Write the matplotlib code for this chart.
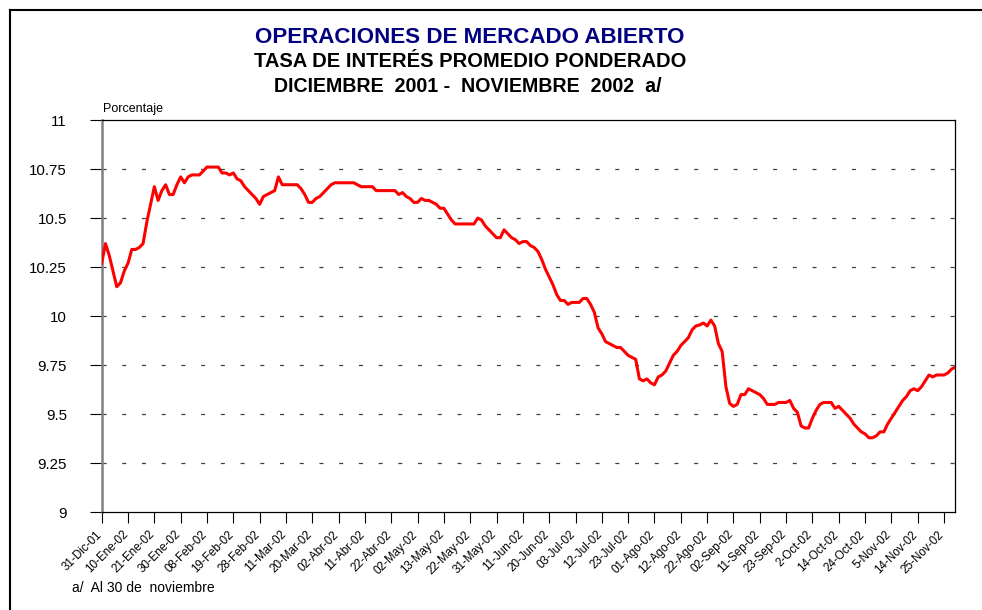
import matplotlib
matplotlib.use("Agg")
import matplotlib.pyplot as plt
import matplotlib.transforms as mtransforms
from matplotlib.lines import Line2D

plt.rcParams['font.family'] = ['Liberation Sans', 'DejaVu Sans']
plt.rcParams['lines.scale_dashes'] = False

# Tick labels shown every 7 business days
tick_labels = ["31-Dic-01", "10-Ene-02", "21-Ene-02", "30-Ene-02", "08-Feb-02", "19-Feb-02",
               "28-Feb-02", "11-Mar-02", "20-Mar-02", "02-Abr-02", "11-Abr-02", "22-Abr-02",
               "02-May-02", "13-May-02", "22-May-02", "31-May-02", "11-Jun-02", "20-Jun-02",
               "03-Jul-02", "12-Jul-02", "23-Jul-02", "01-Ago-02", "12-Ago-02", "22-Ago-02",
               "02-Sep-02", "11-Sep-02", "23-Sep-02", "2-Oct-02", "14-Oct-02", "24-Oct-02",
               "5-Nov-02", "14-Nov-02", "25-Nov-02"]
label_step = 7

# Daily weighted average rate (percent)
rates = [
    10.27, 10.37, 10.31, 10.23, 10.15, 10.17, 10.23, 10.27, 10.34, 10.34,
    10.35, 10.37, 10.48, 10.57, 10.66, 10.59, 10.64, 10.67, 10.62, 10.62,
    10.67, 10.71, 10.68, 10.71, 10.72, 10.72, 10.72, 10.74, 10.76, 10.76,
    10.76, 10.76, 10.73, 10.73, 10.72, 10.73, 10.70, 10.69, 10.66, 10.64,
    10.62, 10.60, 10.57, 10.61, 10.62, 10.63, 10.64, 10.71, 10.67, 10.67,
    10.67, 10.67, 10.67, 10.65, 10.62, 10.58, 10.58, 10.60, 10.61, 10.63,
    10.65, 10.67, 10.68, 10.68, 10.68, 10.68, 10.68, 10.68, 10.67, 10.66,
    10.66, 10.66, 10.66, 10.64, 10.64, 10.64, 10.64, 10.64, 10.64, 10.62,
    10.63, 10.61, 10.60, 10.58, 10.58, 10.60, 10.59, 10.59, 10.58, 10.57,
    10.55, 10.55, 10.52, 10.49, 10.47, 10.47, 10.47, 10.47, 10.47, 10.47,
    10.50, 10.49, 10.46, 10.44, 10.42, 10.40, 10.40, 10.44, 10.42, 10.40,
    10.39, 10.37, 10.38, 10.38, 10.36, 10.35, 10.33, 10.29, 10.24, 10.20,
    10.16, 10.11, 10.08, 10.08, 10.06, 10.07, 10.07, 10.07, 10.09, 10.09,
    10.06, 10.02, 9.94, 9.91, 9.87, 9.86, 9.85, 9.84, 9.84, 9.82,
    9.80, 9.79, 9.78, 9.68, 9.67, 9.68, 9.66, 9.65, 9.69, 9.70,
    9.72, 9.76, 9.80, 9.82, 9.85, 9.87, 9.89, 9.93, 9.95, 9.955,
    9.965, 9.95, 9.98, 9.95, 9.86, 9.82, 9.64, 9.555, 9.54, 9.55,
    9.60, 9.60, 9.63, 9.62, 9.61, 9.60, 9.58, 9.55, 9.55, 9.55,
    9.56, 9.56, 9.56, 9.57, 9.53, 9.51, 9.44, 9.43, 9.43, 9.48,
    9.52, 9.55, 9.56, 9.56, 9.56, 9.53, 9.54, 9.52, 9.50, 9.48,
    9.45, 9.43, 9.41, 9.40, 9.38, 9.38, 9.39, 9.41, 9.41, 9.45,
    9.48, 9.51, 9.54, 9.57, 9.59, 9.62, 9.63, 9.62, 9.64, 9.67,
    9.70, 9.69, 9.70, 9.70, 9.70, 9.71, 9.73, 9.74,
]

y_ticks = [9, 9.25, 9.5, 9.75, 10, 10.25, 10.5, 10.75, 11]
y_tick_labels = ["9", "9.25", "9.5", "9.75", "10", "10.25", "10.5", "10.75", "11"]

W, H = 982, 610
fig = plt.figure(figsize=(W / 100, H / 100), dpi=100)
fig.patch.set_facecolor('white')

def fx(px):
    return px / W

def fy(py):
    return 1 - py / H

ax = fig.add_axes([fx(101.7), fy(512.3), fx(955.3) - fx(101.7), fy(120) - fy(512.3)])

x = list(range(len(rates)))
ax.plot(x, rates, color='#ff0000', linewidth=2.2, solid_joinstyle='round', zorder=3)

ax.set_xlim(0, len(rates) - 1)
ax.set_ylim(9, 11)

# gridlines
for v in y_ticks[1:-1]:
    ax.axhline(v, color='#404040', linewidth=0.9, linestyle=(0, (2.9, 11.3)), zorder=1)

ax.set_yticks(y_ticks)
ax.set_yticklabels(y_tick_labels, fontsize=10.8)
ax.tick_params(axis='y', direction='out', length=9, width=0.8, pad=16, color='black')

xt = [i * label_step for i in range(len(tick_labels))]
ax.set_xticks(xt)
ax.set_xticklabels(tick_labels, fontsize=8.4, rotation=45, ha='right', va='top',
                   rotation_mode='anchor')
ax.tick_params(axis='x', direction='out', length=7.7, width=0.8, pad=4, color='black')
offset = mtransforms.ScaledTranslation(-6 / 100, 0, fig.dpi_scale_trans)
for lab in ax.get_xticklabels():
    lab.set_transform(lab.get_transform() + offset)

for s in ['top', 'right', 'bottom']:
    ax.spines[s].set_color('black')
    ax.spines[s].set_linewidth(0.9)
ax.spines['left'].set_color('#808080')
ax.spines['left'].set_linewidth(1.8)

# Titles
fig.text(fx(470), fy(43.3), "OPERACIONES DE MERCADO ABIERTO", ha='center', va='baseline',
         fontsize=16.1, fontweight='bold', color='#000080')
fig.text(fx(470), fy(66.7), "TASA DE INTERÉS PROMEDIO PONDERADO", ha='center', va='baseline',
         fontsize=14.5, fontweight='bold', color='black')
fig.text(fx(467.5), fy(91.7), "DICIEMBRE  2001 -  NOVIEMBRE  2002  a/", ha='center', va='baseline',
         fontsize=14.1, fontweight='bold', color='black')
fig.text(fx(103), fy(112.3), "Porcentaje", ha='left', va='baseline', fontsize=9, color='black')
fig.text(fx(71.7), fy(591.7), "a/  Al 30 de  noviembre", ha='left', va='baseline', fontsize=10,
         color='black')

# Outer frame
fig.add_artist(Line2D([fx(10), 1.0], [fy(10), fy(10)], color='black', linewidth=1.5,
                      transform=fig.transFigure))
fig.add_artist(Line2D([fx(10), fx(10)], [fy(10), 0.0], color='black', linewidth=1.5,
                      transform=fig.transFigure))

fig.savefig("out.png", dpi=100)
